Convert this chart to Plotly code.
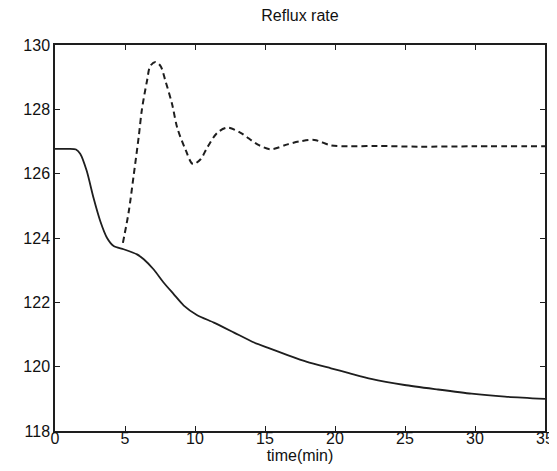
import plotly.graph_objects as go

# Solid line (time, reflux rate)
t_solid = [0, 1.0, 1.5, 1.8, 2.27, 2.75, 3.23, 3.71, 4.19, 4.9, 5.86, 6.34, 7.05, 7.77, 8.49,
           9.2, 10.16, 11.35, 12.79, 14.22, 15.18, 16.61, 18.0, 19.71, 21.0, 22.58, 24.97,
           27.36, 29.75, 32.14, 35.0]
y_solid = [126.77, 126.77, 126.75, 126.62, 126.08, 125.25, 124.53, 124.01, 123.75, 123.65,
           123.49, 123.34, 123.02, 122.61, 122.25, 121.9, 121.6, 121.37, 121.06, 120.75,
           120.59, 120.36, 120.15, 119.95, 119.8, 119.62, 119.43, 119.29, 119.16, 119.07, 119.0]

# Dashed line
t_dash = [4.85, 5.26, 5.62, 5.98, 6.21, 6.57, 6.81, 7.17, 7.53, 7.89, 8.37, 8.73, 9.32, 9.85,
          10.4, 10.87, 11.59, 12.31, 13.26, 14.46, 15.41, 16.61, 17.56, 18.52, 19.71, 21.0,
          23.0, 26.0, 30.0, 35.0]
y_dash = [123.85, 124.8, 125.95, 127.15, 128.0, 128.88, 129.35, 129.47, 129.35, 128.88,
          128.15, 127.43, 126.75, 126.3, 126.45, 126.81, 127.27, 127.43, 127.27, 126.91,
          126.76, 126.91, 127.01, 127.05, 126.88, 126.85, 126.86, 126.84, 126.85, 126.85]

x_ticks = [0, 5, 10, 15, 20, 25, 30, 35]
y_ticks = [118, 120, 122, 124, 126, 128, 130]

FONT = "Liberation Sans, Arial"
INK = "#1e1e1e"

fig = go.Figure()
fig.add_trace(go.Scatter(x=t_solid, y=y_solid, mode="lines",
                         line=dict(color=INK, width=1.8, shape="spline", smoothing=0.6),
                         showlegend=False))
fig.add_trace(go.Scatter(x=t_dash, y=y_dash, mode="lines",
                         line=dict(color=INK, width=2, dash="6px,4px", shape="spline", smoothing=0.9),
                         showlegend=False))

axis_common = dict(showgrid=False, zeroline=False, showline=True, linecolor=INK,
                   linewidth=1.5, mirror="ticks", ticks="inside", ticklen=5, tickwidth=1.3,
                   tickcolor=INK, tickfont=dict(family=FONT, size=16, color="#111"))

fig.update_xaxes(range=[0, 35], tickvals=x_ticks, ticktext=[str(v) for v in x_ticks],
                 ticklabelstandoff=-8,
                 title=dict(text="time(min)", font=dict(family=FONT, size=16, color="#111"),
                            standoff=0),
                 **axis_common)
fig.update_yaxes(range=[118, 130], tickvals=y_ticks, ticktext=[str(v) for v in y_ticks],
                 **axis_common)

fig.update_layout(
    width=557, height=471,
    margin=dict(l=47, r=20, t=37, b=48),
    paper_bgcolor="white", plot_bgcolor="white",
    title=dict(text="Reflux rate", x=0.5, xref="paper", xanchor="center",
               y=1 - 7.5 / 471, yref="container", yanchor="middle",
               font=dict(family=FONT, size=16, color="#111")),
)

fig.write_html("out.html")
